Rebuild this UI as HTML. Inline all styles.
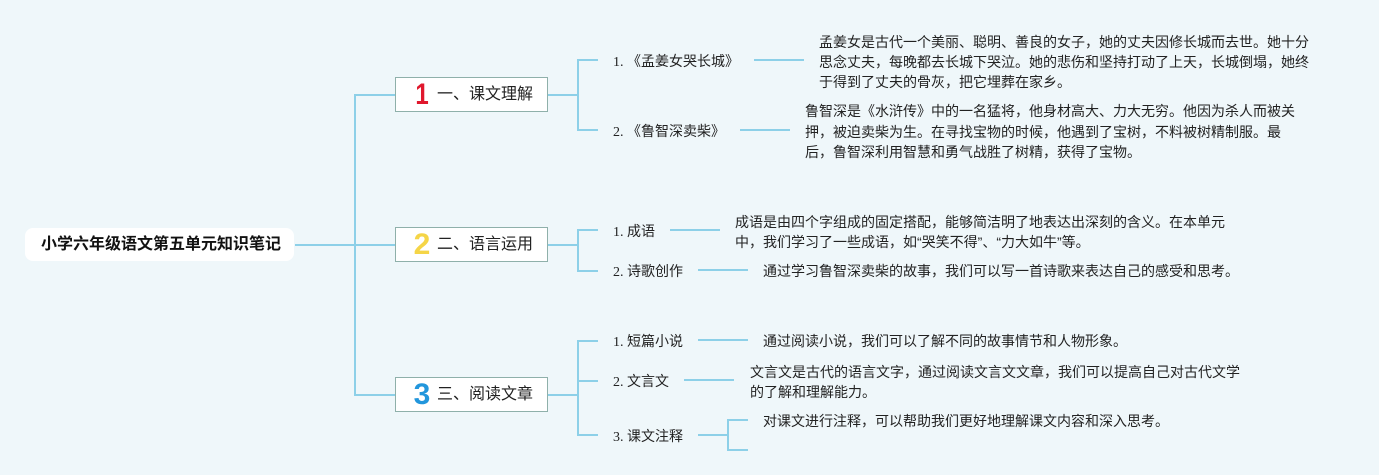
<!DOCTYPE html>
<html>
<head>
<meta charset="utf-8">
<style>
html,body{margin:0;padding:0;}
body{width:1379px;height:475px;background:#eff7fa;position:relative;overflow:hidden;font-family:"Liberation Sans","Noto Sans CJK SC",sans-serif;color:#222;}
svg{position:absolute;left:0;top:0;}
.root{position:absolute;left:25px;top:228px;width:269px;height:33px;background:#fff;border-radius:8px;}
.root span{position:absolute;left:16px;top:0;line-height:33px;font-size:16px;font-weight:bold;color:#111;white-space:nowrap;}
.box{position:absolute;left:395px;width:151px;height:33px;background:#fff;border:1px solid #8fb0aa;}
.box .n{position:absolute;left:13px;width:26px;text-align:center;top:-1px;line-height:36px;font-size:30px;font-weight:bold;font-family:"Liberation Sans",sans-serif;}
.box .t{position:absolute;left:41px;top:0;line-height:34px;font-size:16px;color:#222;white-space:nowrap;}
.lb{position:absolute;left:613px;font-size:14px;line-height:20px;white-space:nowrap;color:#222;font-family:"Liberation Serif","Noto Sans CJK SC",sans-serif;}
.lb b{font-weight:normal;font-family:"Liberation Sans","Noto Sans CJK SC",sans-serif;}
.d{position:absolute;font-size:14px;line-height:20px;white-space:nowrap;color:#222;}
</style>
</head>
<body>
<svg width="1379" height="475" viewBox="0 0 1379 475">
<g stroke="#8dd0e8" stroke-width="2" fill="none">
<path d="M295 245H355M355 94V396M355 95H395M355 245H395M355 395H395"/>
<path d="M547 95H578M578 59V131M578 60H598M578 130H598"/>
<path d="M547 245H578M578 229V272M578 230H598M578 271H598"/>
<path d="M547 395H578M578 340V436M578 341H598M578 381H598M578 435H598"/>
<path d="M754 60H804M740 130H790M670 230H720M698 270H748M698 340H748M684 380H734"/>
<path d="M698 435H728M728 419V451M728 420H748M728 450H748"/>
</g>
</svg>

<div class="root"><span>小学六年级语文第五单元知识笔记</span></div>

<div class="box" style="top:77px;"><span class="n" style="color:#e0182d;display:inline-block;transform:scaleX(0.8);">1</span><span class="t">一、课文理解</span></div>
<div class="box" style="top:227px;"><span class="n" style="color:#f5d547;">2</span><span class="t">二、语言运用</span></div>
<div class="box" style="top:377px;"><span class="n" style="color:#2296dc;">3</span><span class="t">三、阅读文章</span></div>

<div class="lb" style="top:51px;">1. <b>《孟姜女哭长城》</b></div>
<div class="lb" style="top:121px;">2. <b>《鲁智深卖柴》</b></div>
<div class="lb" style="top:221px;">1. <b>成语</b></div>
<div class="lb" style="top:261px;">2. <b>诗歌创作</b></div>
<div class="lb" style="top:331px;">1. <b>短篇小说</b></div>
<div class="lb" style="top:371px;">2. <b>文言文</b></div>
<div class="lb" style="top:426px;">3. <b>课文注释</b></div>

<div class="d" style="left:819px;top:32px;">孟姜女是古代一个美丽、聪明、善良的女子，她的丈夫因修长城而去世。她十分<br>思念丈夫，每晚都去长城下哭泣。她的悲伤和坚持打动了上天，长城倒塌，她终<br>于得到了丈夫的骨灰，把它埋葬在家乡。</div>
<div class="d" style="left:805px;top:101px;line-height:20.5px;">鲁智深是《水浒传》中的一名猛将，他身材高大、力大无穷。他因为杀人而被关<br>押，被迫卖柴为生。在寻找宝物的时候，他遇到了宝树，不料被树精制服。最<br>后，鲁智深利用智慧和勇气战胜了树精，获得了宝物。</div>
<div class="d" style="left:735px;top:212px;">成语是由四个字组成的固定搭配，能够简洁明了地表达出深刻的含义。在本单元<br>中，我们学习了一些成语，如“哭笑不得”、“力大如牛”等。</div>
<div class="d" style="left:763px;top:261px;">通过学习鲁智深卖柴的故事，我们可以写一首诗歌来表达自己的感受和思考。</div>
<div class="d" style="left:763px;top:331px;">通过阅读小说，我们可以了解不同的故事情节和人物形象。</div>
<div class="d" style="left:750px;top:362px;">文言文是古代的语言文字，通过阅读文言文文章，我们可以提高自己对古代文学<br>的了解和理解能力。</div>
<div class="d" style="left:763px;top:411px;">对课文进行注释，可以帮助我们更好地理解课文内容和深入思考。</div>
</body>
</html>
